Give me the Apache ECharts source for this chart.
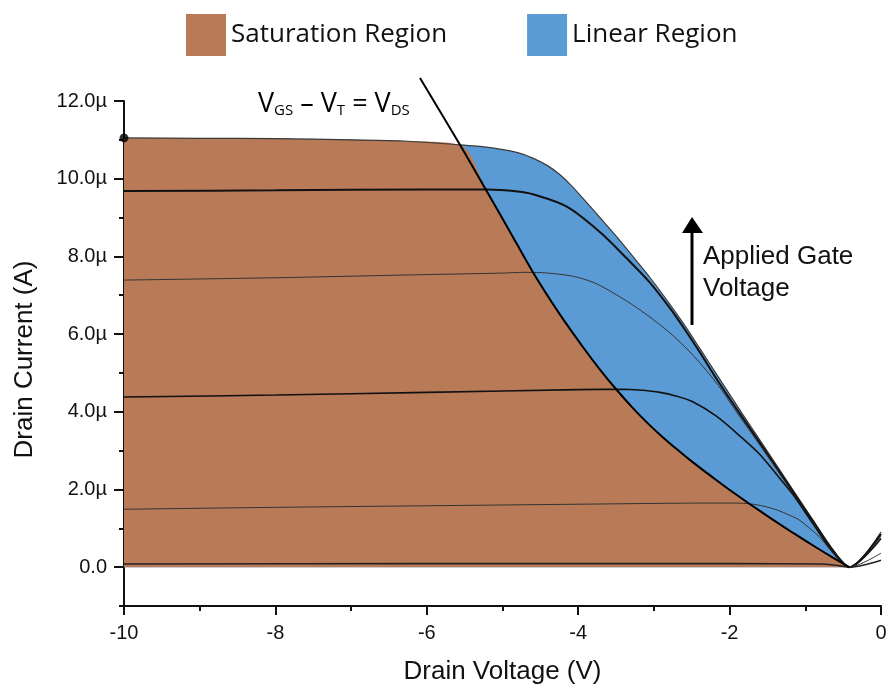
<!DOCTYPE html>
<html>
<head>
<meta charset="utf-8">
<script src="https://cdn.jsdelivr.net/npm/echarts@6/dist/echarts.min.js"></script>
<style>
  html, body { margin: 0; padding: 0; background: #fff; }
  #chart { width: 890px; height: 690px; }
</style>
</head>
<body>
<div id="chart"></div>
<script>
// drain current (µA) against drain voltage (V), one list per gate voltage
const curve1 = [[-10, 11.05], [-9, 11.04], [-8, 11.03], [-7, 11.0], [-6.3, 10.97], [-5.56, 10.87], [-5.3, 10.83], [-5.03, 10.76], [-4.8, 10.67], [-4.6, 10.53], [-4.4, 10.33], [-4.24, 10.1], [-4.1, 9.84], [-3.94, 9.5], [-3.7, 8.97], [-3.49, 8.5], [-3.25, 7.93], [-3.05, 7.45], [-2.8, 6.8], [-2.62, 6.3], [-2.4, 5.65], [-2.15, 4.9], [-1.9, 4.15], [-1.6, 3.27], [-1.16, 1.98], [-0.9, 1.22], [-0.63, 0.44], [-0.42, 0], [0, 0.9]];
const curve2 = [[-10, 9.68], [-8, 9.7], [-6, 9.72], [-5.2, 9.72], [-4.8, 9.67], [-4.6, 9.6], [-4.15, 9.28], [-3.71, 8.62], [-3.36, 7.95], [-3.05, 7.32], [-2.8, 6.7], [-2.62, 6.2], [-2.4, 5.55], [-2.15, 4.78], [-1.9, 4.05], [-1.6, 3.2], [-1.16, 1.93], [-0.9, 1.18], [-0.63, 0.41], [-0.42, 0], [0, 0.85]];
const curve3 = [[-10, 7.39], [-8, 7.45], [-6.3, 7.52], [-5, 7.57], [-4.7, 7.59], [-4.4, 7.57], [-4.1, 7.5], [-3.9, 7.4], [-3.71, 7.25], [-3.28, 6.75], [-2.83, 6.1], [-2.48, 5.45], [-2.15, 4.68], [-1.9, 3.97], [-1.6, 3.14], [-1.16, 1.89], [-0.9, 1.15], [-0.63, 0.39], [-0.42, 0], [0, 0.8]];
const curve4 = [[-10, 4.38], [-8, 4.43], [-6, 4.5], [-4, 4.57], [-3.4, 4.58], [-3.2, 4.56], [-2.92, 4.5], [-2.7, 4.4], [-2.48, 4.25], [-2.17, 3.88], [-1.82, 3.3], [-1.6, 2.9], [-1.3, 2.2], [-1.16, 1.86], [-0.9, 1.12], [-0.63, 0.37], [-0.42, 0], [0, 0.74]];
const curve5 = [[-10, 1.49], [-8, 1.54], [-6, 1.58], [-4, 1.62], [-2.2, 1.65], [-1.9, 1.65], [-1.73, 1.63], [-1.55, 1.57], [-1.37, 1.47], [-1.2, 1.33], [-1.07, 1.2], [-0.81, 0.77], [-0.63, 0.35], [-0.42, 0], [0, 0.36]];
const curve6 = [[-10, 0.08], [-6, 0.09], [-2, 0.09], [-0.8, 0.08], [-0.6, 0.05], [-0.42, 0], [0, 0.18]];
// V_GS - V_T = V_DS line, separates the two regions
const boundary = [[-6.09, 12.59], [-5.56, 10.87], [-5.2, 9.65], [-4.9, 8.63], [-4.6, 7.6], [-4.24, 6.5], [-3.95, 5.7], [-3.71, 5.08], [-3.49, 4.56], [-3.28, 4.1], [-3.1, 3.74], [-2.92, 3.41], [-2.7, 3.04], [-2.48, 2.69], [-2.25, 2.35], [-2.03, 2.03], [-1.73, 1.62], [-1.45, 1.25], [-1.16, 0.88], [-0.85, 0.5], [-0.63, 0.24], [-0.42, 0]];
const crossV = -5.56;   // where the boundary meets the top curve
const zeroV = -0.42;    // where the curves reach zero current

const regionNames = ['Saturation Region', 'Linear Region'];
const xTickLabels = ['-10', '-8', '-6', '-4', '-2', '0'];
const yTickLabels = ['0.0', '2.0µ', '4.0µ', '6.0µ', '8.0µ', '10.0µ', '12.0µ'];

const BROWN = '#B87A57';
const BLUE = '#5B9BD5';
const axisFont = 'Liberation Sans, Arial, sans-serif';

const chart = echarts.init(document.getElementById('chart'));

const linearArea = curve1.filter(p => p[0] <= zeroV);
const saturationArea = curve1.filter(p => p[0] <= crossV)
  .concat(boundary.filter(p => p[0] > crossV));

function curveSeries(data, color, width) {
  return {
    type: 'line',
    data: data,
    smooth: 0.3,
    symbol: 'none',
    lineStyle: { color: color, width: width },
    z: 5
  };
}

chart.setOption({
  animation: false,
  legend: {
    data: regionNames,
    left: 181,
    top: 9,
    icon: 'rect',
    itemWidth: 40,
    itemHeight: 42,
    itemGap: 80,
    textStyle: { fontFamily: 'Open Sans', fontSize: 26, color: '#111' }
  },
  grid: [
    { left: 124, right: 9, top: 101, bottom: 84 },
    { left: 124, right: 9, top: 101, bottom: 123 }
  ],
  xAxis: [
    {
      type: 'value',
      min: -10,
      max: 0,
      interval: 2,
      name: 'Drain Voltage (V)',
      nameLocation: 'middle',
      nameGap: 53,
      nameTextStyle: { fontFamily: axisFont, fontSize: 26, color: '#111' },
      axisLine: { onZero: false, lineStyle: { color: '#111', width: 2 } },
      axisTick: { length: 9, lineStyle: { width: 2 } },
      minorTick: { show: true, splitNumber: 2, length: 5, lineStyle: { color: '#111', width: 2 } },
      splitLine: { show: false },
      axisLabel: {
        margin: 17,
        fontFamily: axisFont,
        fontSize: 20,
        color: '#111',
        formatter: v => xTickLabels[Math.round((v + 10) / 2)]
      }
    },
    { type: 'value', gridIndex: 1, min: -10, max: 0, show: false }
  ],
  yAxis: [
    {
      type: 'value',
      min: -1,
      max: 12,
      interval: 1,
      name: 'Drain Current (A)',
      nameLocation: 'middle',
      nameGap: 86,
      nameTextStyle: { fontFamily: axisFont, fontSize: 26, color: '#111', padding: [0, 12, 0, 0] },
      axisLine: { onZero: false, lineStyle: { color: '#111', width: 2 } },
      axisTick: { length: 5, lineStyle: { width: 2 } },
      splitLine: { show: false },
      axisLabel: { show: false }
    },
    {
      // longer ticks and labels on the even values
      type: 'value',
      gridIndex: 1,
      min: 0,
      max: 12,
      interval: 2,
      axisLine: { show: false, onZero: false },
      axisTick: { show: true, length: 10, lineStyle: { color: '#111', width: 2 } },
      splitLine: { show: false },
      axisLabel: {
        margin: 17,
        fontFamily: axisFont,
        fontSize: 20,
        color: '#111',
        formatter: v => yTickLabels[Math.round(v / 2)]
      }
    }
  ],
  series: [
    {
      name: 'Linear Region',
      type: 'line',
      data: linearArea,
      smooth: 0.3,
      symbol: 'none',
      itemStyle: { color: BLUE },
      lineStyle: { width: 0, color: BLUE },
      areaStyle: { color: BLUE, opacity: 1 },
      z: 1
    },
    {
      name: 'Saturation Region',
      type: 'line',
      data: saturationArea,
      smooth: 0.3,
      symbol: 'none',
      itemStyle: { color: BROWN },
      lineStyle: { width: 0, color: BROWN },
      areaStyle: { color: BROWN, opacity: 1 },
      z: 2
    },
    curveSeries(curve1, '#3a3a3a', 1.2),
    curveSeries(curve2, '#111', 2),
    curveSeries(curve3, '#333', 1),
    curveSeries(curve4, '#111', 1.6),
    curveSeries(curve5, '#333', 1),
    curveSeries(curve6, '#222', 1.6),
    Object.assign(curveSeries(boundary, '#000', 2), { clip: false, z: 6 }),
    {
      type: 'scatter',
      data: [curve1[0]],
      symbolSize: 9,
      itemStyle: { color: '#000' },
      z: 7
    }
  ],
  graphic: [
    {
      type: 'text',
      left: 258,
      top: 91,
      style: {
        text: '{a|V}{s|GS}{a| – V}{s|T}{a| = V}{s|DS}',
        rich: {
          a: { fontFamily: 'Open Sans', fontSize: 27, color: '#111', verticalAlign: 'bottom' },
          s: { fontFamily: 'Open Sans', fontSize: 15, color: '#111', verticalAlign: 'bottom' }
        }
      }
    },
    {
      type: 'line',
      shape: { x1: 692, y1: 325, x2: 692, y2: 228 },
      style: { stroke: '#000', lineWidth: 3 }
    },
    {
      type: 'polygon',
      shape: { points: [[692, 217], [682, 233], [703, 233]] },
      style: { fill: '#000' }
    },
    {
      type: 'text',
      left: 703,
      top: 241,
      style: {
        text: 'Applied Gate\nVoltage',
        fontFamily: axisFont,
        fontSize: 26,
        lineHeight: 32,
        fill: '#111'
      }
    }
  ]
});
</script>
</body>
</html>
